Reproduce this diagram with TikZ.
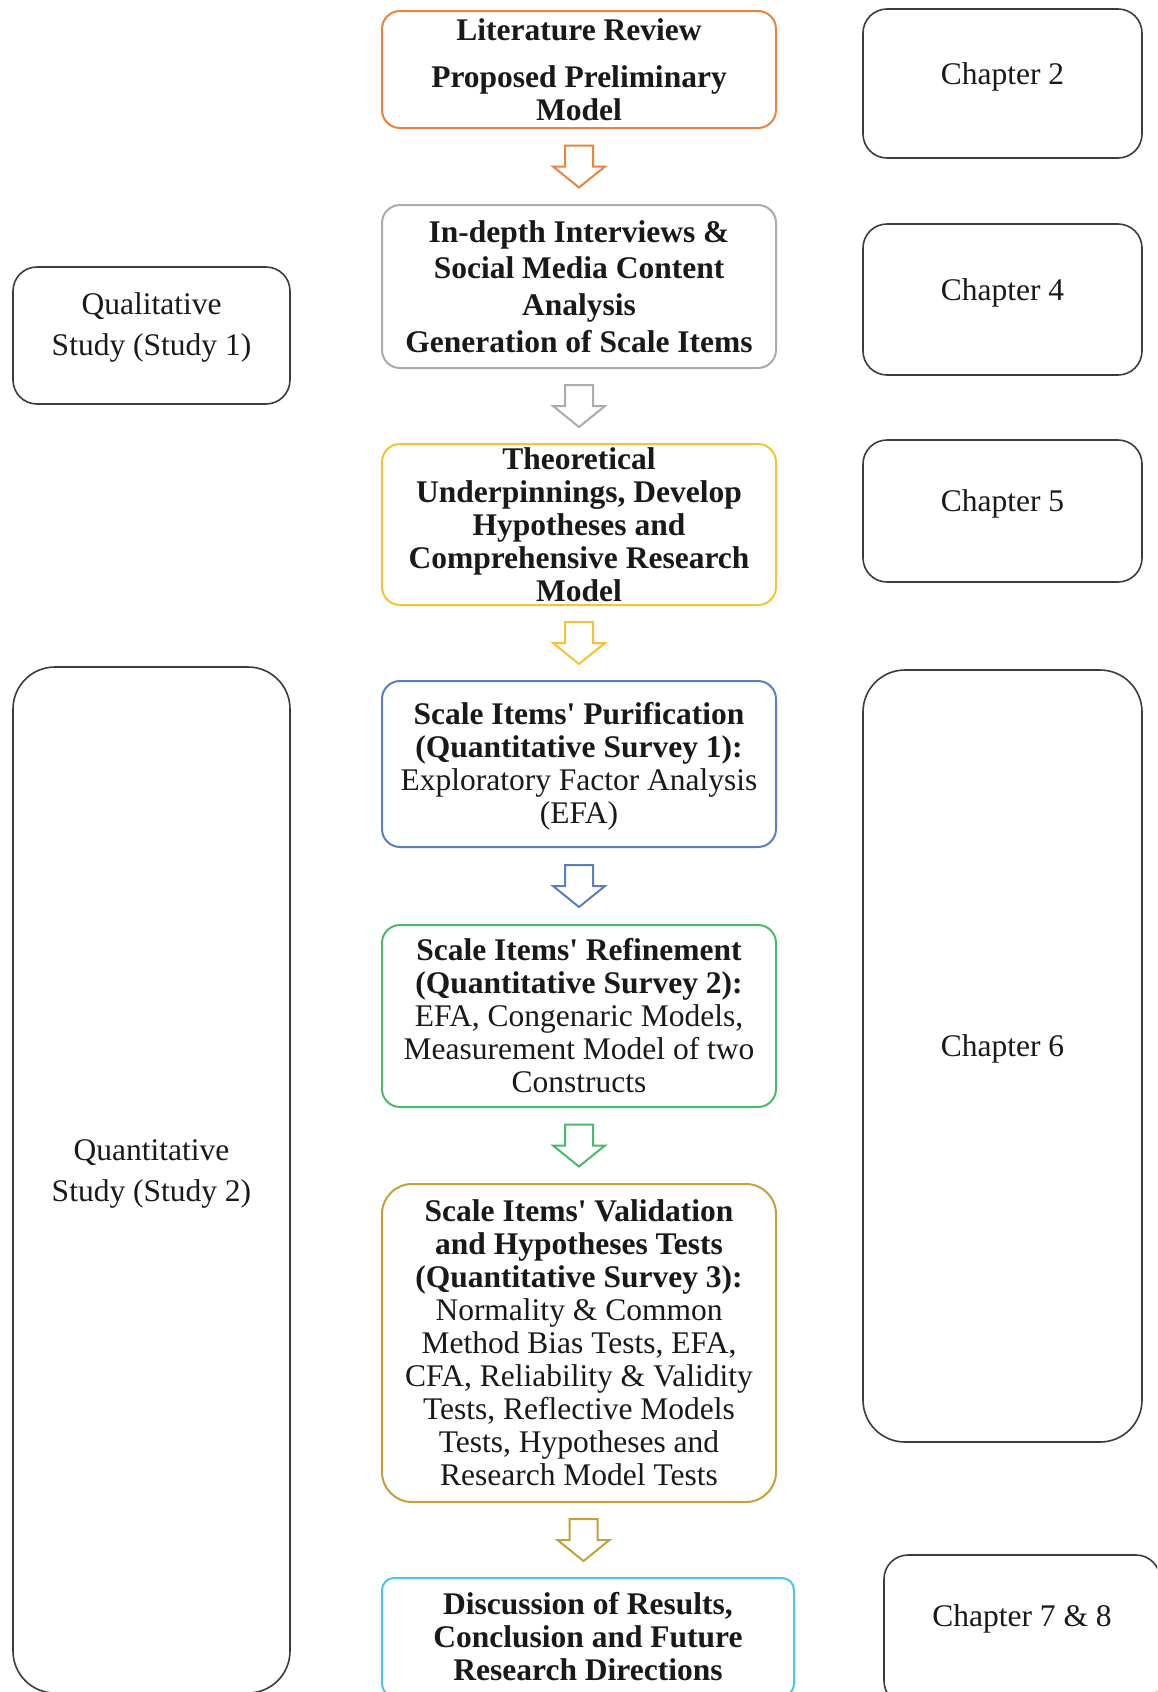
\documentclass[tikz,border=0pt]{standalone}
\usepackage{fontspec}
\setmainfont{Liberation Serif}[Ligatures=TeXOff]
\usetikzlibrary{calc}

\definecolor{litorange}{HTML}{E8843F}
\definecolor{qualgray}{HTML}{ABABAB}
\definecolor{theogold}{HTML}{F7C331}
\definecolor{purblue}{HTML}{5A7EC2}
\definecolor{refgreen}{HTML}{4CB86E}
\definecolor{valgold}{HTML}{C4A03A}
\definecolor{disccyan}{HTML}{4EC1EC}
\definecolor{sideline}{HTML}{3C3C3C}

\tikzset{
  stage/.style={draw, line width=2, rounded corners=18, inner sep=0, fill=white},
  sidebox/.style={draw=sideline, line width=1.6, rounded corners=24, inner sep=0},
  tallbox/.style={sidebox, rounded corners=42},
  txt/.style={align=center, inner sep=0, text=black!90, font=\fontsize{31.5}{33}\selectfont},
  blockarrow/.style={line width=2, line join=miter, fill=white},
}

% hollow down arrow centred in the gap between two stacked boxes
\newcommand\downblock[3]{%
  \draw[blockarrow, draw=#3] ($(#1.south)!0.5!(#2.north)$)
    ++(-14,-21) -- ++(28,0) -- ++(0,21) -- ++(12,0) -- ++(-26,21)
    -- ++(-26,-21) -- ++(12,0) -- cycle;}

\begin{document}
\begin{tikzpicture}[x=1pt, y=-1pt]
\useasboundingbox (0,0) rectangle (1157,1692);
\clip (0,0) rectangle (1157,1692);
\fill[white] (0,0) rectangle (1157,1692);

% ---- main process column ----
\node[stage, draw=litorange, minimum width=394, minimum height=117] (b1) at (579,69.5) {};
\node[txt] (b1t) at (b1.center) {\textbf{Literature Review}\\[14pt]\textbf{Proposed Preliminary}\\\textbf{Model}};

\node[stage, draw=qualgray, minimum width=394, minimum height=163] (b2) at (579,286.5) {};
\node[txt, font=\fontsize{31.5}{36.7}\selectfont] (b2t) at (b2.center) {\textbf{In-depth Interviews \&}\\\textbf{Social Media Content}\\\textbf{Analysis}\\\textbf{Generation of Scale Items}};

\node[stage, draw=theogold, minimum width=394, minimum height=161] (b3) at (579,524.5) {};
\node[txt] (b3t) at (b3.center) {\textbf{Theoretical}\\\textbf{Underpinnings, Develop}\\\textbf{Hypotheses and}\\\textbf{Comprehensive Research}\\\textbf{Model}};

\node[stage, draw=purblue, minimum width=394, minimum height=166] (b4) at (579,764) {};
\node[txt] (b4t) at ([yshift=-2]b4.center) {\textbf{Scale Items' Purification}\\\textbf{(Quantitative Survey 1):}\\Exploratory Factor Analysis\\(EFA)};

\node[stage, draw=refgreen, minimum width=394, minimum height=182] (b5) at (579,1016) {};
\node[txt] (b5t) at (b5.center) {\textbf{Scale Items' Refinement}\\\textbf{(Quantitative Survey 2):}\\EFA, Congenaric Models,\\Measurement Model of two\\Constructs};

\node[stage, draw=valgold, rounded corners=30, minimum width=394, minimum height=318] (b6) at (579,1343) {};
\node[txt] (b6t) at (b6.center) {\textbf{Scale Items' Validation}\\\textbf{and Hypotheses Tests}\\\textbf{(Quantitative Survey 3):}\\Normality \& Common\\Method Bias Tests, EFA,\\CFA, Reliability \& Validity\\Tests, Reflective Models\\Tests, Hypotheses and\\Research Model Tests};

\node[stage, draw=disccyan, rounded corners=12, minimum width=412, minimum height=118] (b7) at (588,1637) {};
\node[txt] (b7t) at (b7.center) {\textbf{Discussion of Results,}\\\textbf{Conclusion and Future}\\\textbf{Research Directions}};

\downblock{b1}{b2}{litorange}
\downblock{b2}{b3}{qualgray}
\downblock{b3}{b4}{theogold}
\downblock{b4}{b5}{purblue}
\downblock{b5}{b6}{refgreen}
\downblock{b6}{b7}{valgold}

% ---- study blocks (left) ----
\node[sidebox, minimum width=277, minimum height=137] (qual) at (151.5,335.5) {};
\node[txt, font=\fontsize{31.5}{41}\selectfont] (qualt) at (151.5,327.5) {Qualitative\\Study (Study 1)};

\node[tallbox, minimum width=277, minimum height=1026] (quant) at (151.5,1180) {};
\node[txt, font=\fontsize{31.5}{41}\selectfont] (quantt) at (151.5,1173.5) {Quantitative\\Study (Study 2)};

% ---- chapter blocks (right) ----
\node[sidebox, minimum width=279, minimum height=149] (ch2) at (1002.5,83.5) {};
\node[txt] (ch2t) at (1002.5,76.5) {Chapter 2};

\node[sidebox, minimum width=279, minimum height=151] (ch4) at (1002.5,299.5) {};
\node[txt] (ch4t) at (1002.5,292.5) {Chapter 4};

\node[sidebox, minimum width=279, minimum height=142] (ch5) at (1002.5,511) {};
\node[txt] (ch5t) at (1002.5,504) {Chapter 5};

\node[tallbox, minimum width=279, minimum height=772] (ch6) at (1002.5,1056) {};
\node[txt] (ch6t) at (1002.5,1049) {Chapter 6};

\node[sidebox, minimum width=276, minimum height=150] (ch78) at (1022,1630) {};
\node[txt] (ch78t) at (1022,1618.5) {Chapter 7 \& 8};
\end{tikzpicture}
\end{document}
